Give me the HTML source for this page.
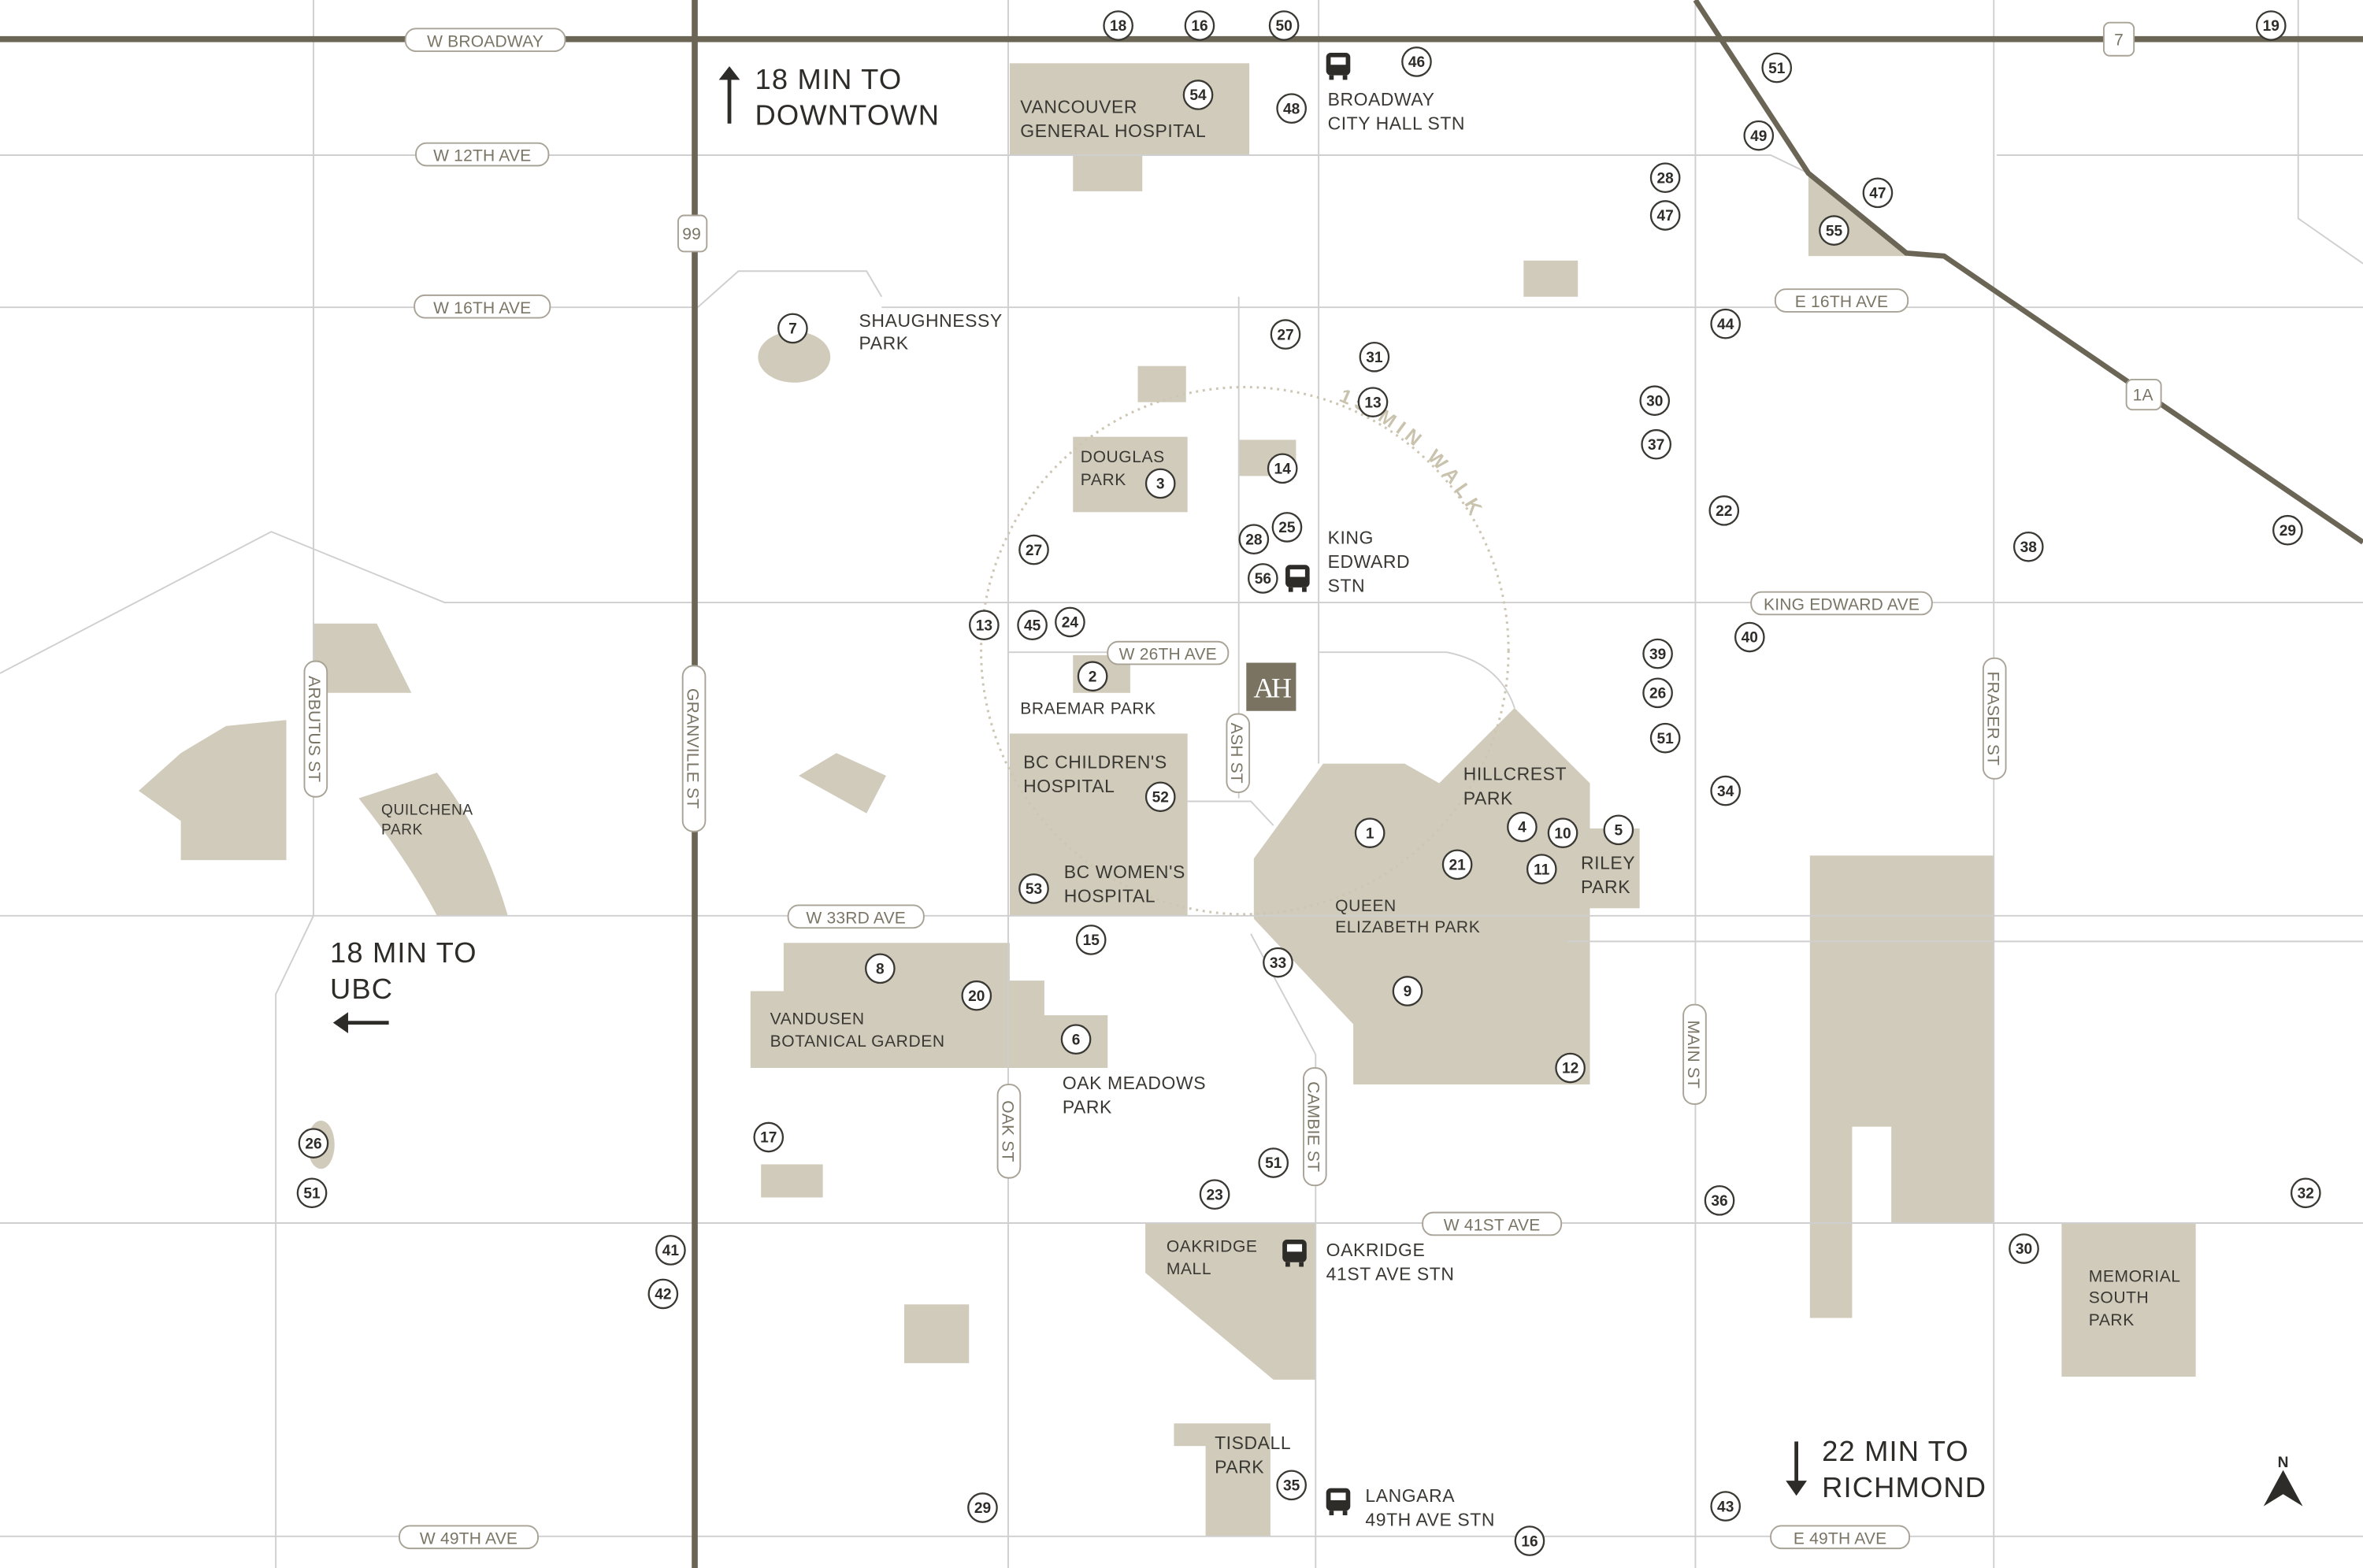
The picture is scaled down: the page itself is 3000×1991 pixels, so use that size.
<!DOCTYPE html>
<html><head><meta charset="utf-8"><style>
html,body{margin:0;padding:0;background:#fff}
svg{display:block}
text{font-family:"Liberation Sans",sans-serif}
.lb{font-size:12px;fill:#3a3833;letter-spacing:0.3px}
.big{font-size:19px;fill:#2e2c28;letter-spacing:0.6px}
.rd{font-size:11px;fill:#7a7565;letter-spacing:0.1px}
.n circle{fill:#fff;stroke:#3a3833;stroke-width:1.2}
.n text{font-size:10px;fill:#2e2c28;text-anchor:middle;font-weight:bold}
.pill{fill:#fff;stroke:#a8a396;stroke-width:1}
.pk{fill:#d1cbbb}
.mn{stroke:#cfcfcf;stroke-width:1;fill:none}
</style></head><body>
<svg width="3000" height="1991" viewBox="0 0 1568 1041" preserveAspectRatio="none" xmlns="http://www.w3.org/2000/svg">
<rect width="1568" height="1041" fill="#fff"/>
<g class="pk">
<rect x="670" y="42" width="159" height="61"/><rect x="712" y="103" width="46" height="24"/>
<polygon points="1200,115 1265,170 1200,170"/>
<rect x="1011" y="173" width="36" height="24"/>
<ellipse cx="527" cy="237" rx="24" ry="17"/>
<rect x="755" y="243" width="32" height="24"/>
<rect x="712" y="290" width="76" height="50"/>
<rect x="822" y="292" width="38" height="24"/>
<rect x="712" y="435" width="38" height="25"/>
<rect x="670" y="487" width="118" height="121"/>
<polygon points="878,507 932,507 955,520 1005,470 1055,520 1055,720 898,720 898,680 832,610 832,570"/>
<rect x="1045" y="550" width="43" height="53"/>
<path d="M238,530 L290,513 Q320,550 337,608 L290,608 Q270,570 238,530Z"/>
<polygon points="92,525 120,500 150,482 190,478 190,571 120,571 120,545"/>
<polygon points="208,414 250,414 273,460 208,460"/>
<polygon points="530,515 555,500 588,515 575,540"/>
<polygon points="520,626 670,626 670,651 693,651 693,674 735,674 735,709 498,709 498,658 520,658"/>
<rect x="505" y="773" width="41" height="22"/>
<ellipse cx="213" cy="760" rx="9" ry="16"/>
<polygon points="760,812 873,812 873,916 845,916 760,845"/>
<rect x="600" y="866" width="43" height="39"/>
<polygon points="779,945 843,945 843,1020 800,1020 800,960 779,960"/>
<polygon points="1201,568 1323,568 1323,812 1255,812 1255,748 1229,748 1229,875 1201,875"/>
<rect x="1368" y="812" width="89" height="102"/>
</g>
<g class="mn">
<path d="M0,103H1175L1200,115"/><path d="M1325,103H1568"/>
<path d="M0,204H463M463,204L490,180H575L585,197M585,204H1568"/>
<path d="M0,447L180,353L295,400H1568"/>
<path d="M0,608H1568"/><path d="M0,812H1568"/><path d="M0,1020H1568"/>
<path d="M1040,625H1568"/>
<path d="M208,0V608L183,660V1041"/>
<path d="M669,0V1041"/>
<path d="M875,0V507"/><path d="M873,700V1041"/><path d="M788,532H830L845,548"/><path d="M830,620L873,700"/>
<path d="M822,197V530"/>
<path d="M875,433H960Q995,440 1005,470"/>
<path d="M1125,0V1041"/><path d="M1323,0V1041"/>
<path d="M1525,0V145L1568,175"/>
<path d="M669,433H740"/>
</g>
<circle cx="826" cy="432" r="175" fill="none" stroke="#cdc6b3" stroke-width="1.6" stroke-dasharray="1.5,3"/>
<path id="arc" d="M888,266 A177,177 0 0,1 992,378" fill="none"/>
<text font-size="13" fill="#c9c2ad" font-weight="bold" letter-spacing="3.5"><textPath href="#arc">15 MIN WALK</textPath></text>
<g stroke="#6b6556" stroke-width="4" fill="none">
<path d="M0,26H1568"/><path d="M461,0V1041"/>
<path d="M1125,0L1200,115L1265,168L1290,170L1568,360" stroke-width="3.5"/>
</g>
<g>
<rect class="pill" x="269" y="19" width="106" height="15" rx="7"/><text class="rd" x="322" y="31" text-anchor="middle">W BROADWAY</text>
<rect class="pill" x="276" y="95" width="88" height="15" rx="7"/><text class="rd" x="320" y="107" text-anchor="middle">W 12TH AVE</text>
<rect class="pill" x="275" y="196" width="90" height="15" rx="7"/><text class="rd" x="320" y="208" text-anchor="middle">W 16TH AVE</text>
<rect class="pill" x="1178" y="192" width="88" height="15" rx="7"/><text class="rd" x="1222" y="204" text-anchor="middle">E 16TH AVE</text>
<rect class="pill" x="1162" y="393" width="120" height="15" rx="7"/><text class="rd" x="1222" y="405" text-anchor="middle">KING EDWARD AVE</text>
<rect class="pill" x="735" y="426" width="80" height="15" rx="7"/><text class="rd" x="775" y="438" text-anchor="middle">W 26TH AVE</text>
<rect class="pill" x="523" y="601" width="90" height="15" rx="7"/><text class="rd" x="568" y="613" text-anchor="middle">W 33RD AVE</text>
<rect class="pill" x="944" y="805" width="92" height="15" rx="7"/><text class="rd" x="990" y="817" text-anchor="middle">W 41ST AVE</text>
<rect class="pill" x="265" y="1013" width="92" height="15" rx="7"/><text class="rd" x="311" y="1025" text-anchor="middle">W 49TH AVE</text>
<rect class="pill" x="1175" y="1013" width="92" height="15" rx="7"/><text class="rd" x="1221" y="1025" text-anchor="middle">E 49TH AVE</text>
<rect class="pill" x="450" y="143" width="19" height="24" rx="4"/><text class="rd" x="459" y="159" text-anchor="middle">99</text>
<rect class="pill" x="1396" y="15" width="20" height="22" rx="4"/><text class="rd" x="1406" y="30" text-anchor="middle">7</text>
<rect class="pill" x="1411" y="252" width="23" height="20" rx="4"/><text class="rd" x="1422" y="266" text-anchor="middle">1A</text>
<g>
<rect class="pill" x="202" y="439" width="15" height="90" rx="7"/><text class="rd" transform="translate(205,484) rotate(90)" text-anchor="middle">ARBUTUS ST</text>
<rect class="pill" x="453" y="442" width="15" height="110" rx="7"/><text class="rd" transform="translate(456,497) rotate(90)" text-anchor="middle">GRANVILLE ST</text>
<rect class="pill" x="814" y="474" width="15" height="52" rx="7"/><text class="rd" transform="translate(817,500) rotate(90)" text-anchor="middle">ASH ST</text>
<rect class="pill" x="662" y="720" width="15" height="62" rx="7"/><text class="rd" transform="translate(665,751) rotate(90)" text-anchor="middle">OAK ST</text>
<rect class="pill" x="865" y="709" width="15" height="78" rx="7"/><text class="rd" transform="translate(868,748) rotate(90)" text-anchor="middle">CAMBIE ST</text>
<rect class="pill" x="1117" y="667" width="15" height="66" rx="7"/><text class="rd" transform="translate(1120,700) rotate(90)" text-anchor="middle">MAIN ST</text>
<rect class="pill" x="1316" y="437" width="15" height="80" rx="7"/><text class="rd" transform="translate(1319,477) rotate(90)" text-anchor="middle">FRASER ST</text>
</g>
</g>
<rect x="827" y="440" width="33" height="32" fill="#7a7362"/>
<text x="843.5" y="463" fill="#fff" style="font-family:'Liberation Serif',serif" font-size="19" text-anchor="middle" letter-spacing="-2">AH</text>
<g class="lb">
<text x="677" y="75">VANCOUVER</text><text x="677" y="91">GENERAL HOSPITAL</text>
<text x="881" y="70">BROADWAY</text><text x="881" y="86">CITY HALL STN</text>
<text x="570" y="217">SHAUGHNESSY</text><text x="570" y="232">PARK</text>
<text x="717" y="307" font-size="11">DOUGLAS</text><text x="717" y="322" font-size="11">PARK</text>
<text x="881" y="361">KING</text><text x="881" y="377">EDWARD</text><text x="881" y="393">STN</text>
<text x="677" y="474" font-size="11">BRAEMAR PARK</text>
<text x="679" y="510">BC CHILDREN'S</text><text x="679" y="526">HOSPITAL</text>
<text x="706" y="583">BC WOMEN'S</text><text x="706" y="599">HOSPITAL</text>
<text x="971" y="518">HILLCREST</text><text x="971" y="534">PARK</text>
<text x="1049" y="577">RILEY</text><text x="1049" y="593">PARK</text>
<text x="886" y="605" font-size="11">QUEEN</text><text x="886" y="619" font-size="11">ELIZABETH PARK</text>
<text x="253" y="541" font-size="10">QUILCHENA</text><text x="253" y="554" font-size="10">PARK</text>
<text x="511" y="680" font-size="11">VANDUSEN</text><text x="511" y="695" font-size="11">BOTANICAL GARDEN</text>
<text x="705" y="723">OAK MEADOWS</text><text x="705" y="739">PARK</text>
<text x="774" y="831" font-size="11">OAKRIDGE</text><text x="774" y="846" font-size="11">MALL</text>
<text x="880" y="834">OAKRIDGE</text><text x="880" y="850">41ST AVE STN</text>
<text x="806" y="962">TISDALL</text><text x="806" y="978">PARK</text>
<text x="906" y="997">LANGARA</text><text x="906" y="1013">49TH AVE STN</text>
<text x="1386" y="851" font-size="11">MEMORIAL</text><text x="1386" y="865" font-size="11">SOUTH</text><text x="1386" y="880" font-size="11">PARK</text>
</g>
<g class="big">
<text x="501" y="59">18 MIN TO</text><text x="501" y="83">DOWNTOWN</text>
<text x="219" y="639">18 MIN TO</text><text x="219" y="663">UBC</text>
<text x="1209" y="970">22 MIN TO</text><text x="1209" y="994">RICHMOND</text>
</g>
<g stroke="#2e2c28" stroke-width="2.5" fill="#2e2c28">
<path d="M484,82V50"/><polygon points="477,53 484,44 491,53" stroke="none"/>
<path d="M258,679H228"/><polygon points="231,672 221,679 231,686" stroke="none"/>
<path d="M1192,957V986"/><polygon points="1185,983 1192,993 1199,983" stroke="none"/>
</g>
<text x="1515" y="974" font-size="10" font-weight="bold" text-anchor="middle" fill="#2e2c28">N</text>
<polygon points="1515,976 1528,1000 1515,992 1502,1000" fill="#2e2c28"/>
<g fill="#2e2c28">
<g transform="translate(880,35)"><rect width="16" height="15" rx="3"/><rect x="3" y="3" width="10" height="5" fill="#fff"/><rect x="2" y="15" width="3" height="3"/><rect x="11" y="15" width="3" height="3"/></g>
<g transform="translate(853,375)"><rect width="16" height="15" rx="3"/><rect x="3" y="3" width="10" height="5" fill="#fff"/><rect x="2" y="15" width="3" height="3"/><rect x="11" y="15" width="3" height="3"/></g>
<g transform="translate(851,823)"><rect width="16" height="15" rx="3"/><rect x="3" y="3" width="10" height="5" fill="#fff"/><rect x="2" y="15" width="3" height="3"/><rect x="11" y="15" width="3" height="3"/></g>
<g transform="translate(880,988)"><rect width="16" height="15" rx="3"/><rect x="3" y="3" width="10" height="5" fill="#fff"/><rect x="2" y="15" width="3" height="3"/><rect x="11" y="15" width="3" height="3"/></g>
</g>
<g class="n">
<g transform="translate(742,17)"><circle r="9.5"/><text y="3.5">18</text></g>
<g transform="translate(796,17)"><circle r="9.5"/><text y="3.5">16</text></g>
<g transform="translate(852,17)"><circle r="9.5"/><text y="3.5">50</text></g>
<g transform="translate(940,41)"><circle r="9.5"/><text y="3.5">46</text></g>
<g transform="translate(795,63)"><circle r="9.5"/><text y="3.5">54</text></g>
<g transform="translate(857,72)"><circle r="9.5"/><text y="3.5">48</text></g>
<g transform="translate(1179,45)"><circle r="9.5"/><text y="3.5">51</text></g>
<g transform="translate(1507,17)"><circle r="9.5"/><text y="3.5">19</text></g>
<g transform="translate(1167,90)"><circle r="9.5"/><text y="3.5">49</text></g>
<g transform="translate(1105,118)"><circle r="9.5"/><text y="3.5">28</text></g>
<g transform="translate(1105,143)"><circle r="9.5"/><text y="3.5">47</text></g>
<g transform="translate(1246,128)"><circle r="9.5"/><text y="3.5">47</text></g>
<g transform="translate(1217,153)"><circle r="9.5"/><text y="3.5">55</text></g>
<g transform="translate(526,218)"><circle r="9.5"/><text y="3.5">7</text></g>
<g transform="translate(853,222)"><circle r="9.5"/><text y="3.5">27</text></g>
<g transform="translate(912,237)"><circle r="9.5"/><text y="3.5">31</text></g>
<g transform="translate(911,267)"><circle r="9.5"/><text y="3.5">13</text></g>
<g transform="translate(1145,215)"><circle r="9.5"/><text y="3.5">44</text></g>
<g transform="translate(1098,266)"><circle r="9.5"/><text y="3.5">30</text></g>
<g transform="translate(1099,295)"><circle r="9.5"/><text y="3.5">37</text></g>
<g transform="translate(851,311)"><circle r="9.5"/><text y="3.5">14</text></g>
<g transform="translate(770,321)"><circle r="9.5"/><text y="3.5">3</text></g>
<g transform="translate(1144,339)"><circle r="9.5"/><text y="3.5">22</text></g>
<g transform="translate(1346,363)"><circle r="9.5"/><text y="3.5">38</text></g>
<g transform="translate(1518,352)"><circle r="9.5"/><text y="3.5">29</text></g>
<g transform="translate(854,350)"><circle r="9.5"/><text y="3.5">25</text></g>
<g transform="translate(832,358)"><circle r="9.5"/><text y="3.5">28</text></g>
<g transform="translate(686,365)"><circle r="9.5"/><text y="3.5">27</text></g>
<g transform="translate(838,384)"><circle r="9.5"/><text y="3.5">56</text></g>
<g transform="translate(653,415)"><circle r="9.5"/><text y="3.5">13</text></g>
<g transform="translate(685,415)"><circle r="9.5"/><text y="3.5">45</text></g>
<g transform="translate(710,413)"><circle r="9.5"/><text y="3.5">24</text></g>
<g transform="translate(1161,423)"><circle r="9.5"/><text y="3.5">40</text></g>
<g transform="translate(1100,434)"><circle r="9.5"/><text y="3.5">39</text></g>
<g transform="translate(1100,460)"><circle r="9.5"/><text y="3.5">26</text></g>
<g transform="translate(725,449)"><circle r="9.5"/><text y="3.5">2</text></g>
<g transform="translate(1105,490)"><circle r="9.5"/><text y="3.5">51</text></g>
<g transform="translate(1145,525)"><circle r="9.5"/><text y="3.5">34</text></g>
<g transform="translate(770,529)"><circle r="9.5"/><text y="3.5">52</text></g>
<g transform="translate(909,553)"><circle r="9.5"/><text y="3.5">1</text></g>
<g transform="translate(1010,549)"><circle r="9.5"/><text y="3.5">4</text></g>
<g transform="translate(1037,553)"><circle r="9.5"/><text y="3.5">10</text></g>
<g transform="translate(1074,551)"><circle r="9.5"/><text y="3.5">5</text></g>
<g transform="translate(967,574)"><circle r="9.5"/><text y="3.5">21</text></g>
<g transform="translate(1023,577)"><circle r="9.5"/><text y="3.5">11</text></g>
<g transform="translate(686,590)"><circle r="9.5"/><text y="3.5">53</text></g>
<g transform="translate(724,624)"><circle r="9.5"/><text y="3.5">15</text></g>
<g transform="translate(848,639)"><circle r="9.5"/><text y="3.5">33</text></g>
<g transform="translate(584,643)"><circle r="9.5"/><text y="3.5">8</text></g>
<g transform="translate(648,661)"><circle r="9.5"/><text y="3.5">20</text></g>
<g transform="translate(934,658)"><circle r="9.5"/><text y="3.5">9</text></g>
<g transform="translate(714,690)"><circle r="9.5"/><text y="3.5">6</text></g>
<g transform="translate(1042,709)"><circle r="9.5"/><text y="3.5">12</text></g>
<g transform="translate(510,755)"><circle r="9.5"/><text y="3.5">17</text></g>
<g transform="translate(208,759)"><circle r="9.5"/><text y="3.5">26</text></g>
<g transform="translate(207,792)"><circle r="9.5"/><text y="3.5">51</text></g>
<g transform="translate(845,772)"><circle r="9.5"/><text y="3.5">51</text></g>
<g transform="translate(806,793)"><circle r="9.5"/><text y="3.5">23</text></g>
<g transform="translate(1141,797)"><circle r="9.5"/><text y="3.5">36</text></g>
<g transform="translate(1530,792)"><circle r="9.5"/><text y="3.5">32</text></g>
<g transform="translate(1343,829)"><circle r="9.5"/><text y="3.5">30</text></g>
<g transform="translate(445,830)"><circle r="9.5"/><text y="3.5">41</text></g>
<g transform="translate(440,859)"><circle r="9.5"/><text y="3.5">42</text></g>
<g transform="translate(652,1001)"><circle r="9.5"/><text y="3.5">29</text></g>
<g transform="translate(857,986)"><circle r="9.5"/><text y="3.5">35</text></g>
<g transform="translate(1145,1000)"><circle r="9.5"/><text y="3.5">43</text></g>
<g transform="translate(1015,1023)"><circle r="9.5"/><text y="3.5">16</text></g>
</g>
</svg>
</body></html>
